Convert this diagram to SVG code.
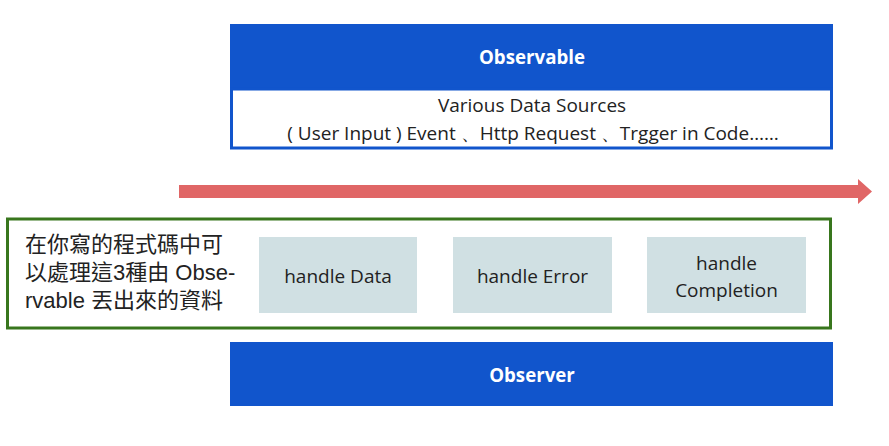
<svg xmlns="http://www.w3.org/2000/svg" width="889" height="446" viewBox="0 0 889 446">
  <style>
    .blue { fill: #1155cc; }
    .title { font-family: "Open Sans", "Noto Sans", sans-serif; font-weight: bold; font-size: 18.7px; fill: #ffffff; text-anchor: middle; }
    .desc { font-family: "Open Sans", "Noto Sans", sans-serif; font-size: 19px; fill: #222222; text-anchor: middle; }
    .handler { fill: #d0e0e3; }
    .hlabel { font-family: "Open Sans", "Noto Sans", sans-serif; font-size: 19px; fill: #222222; text-anchor: middle; }
    .note { font-family: "Liberation Sans", "Noto Sans CJK TC", sans-serif; font-size: 22px; fill: #222222; }
  </style>
  <rect width="889" height="446" fill="#ffffff"/>

  <g id="observable">
    <rect class="blue" x="230" y="24" width="603" height="66"/>
    <rect x="231.5" y="89" width="600" height="59" fill="#ffffff" stroke="#1155cc" stroke-width="3"/>
    <text class="title" x="532" y="64">Observable</text>
    <text class="desc" x="532" y="112">Various Data Sources</text>
    <text class="desc" x="533" y="140">( User Input ) Event 、Http Request 、Trgger in Code……</text>
  </g>

  <g id="connectors">
    <polygon points="179,185 858,185 858,179 872,191.5 858,204 858,198 179,198" fill="#e06666"/>
  </g>

  <g id="observer-code">
    <rect x="7.5" y="219" width="823" height="109" fill="#ffffff" stroke="#38761d" stroke-width="3"/>
    <text class="note" x="25" y="252">在你寫的程式碼中可</text>
    <text class="note" x="25" y="280">以處理這3種由 Obse-</text>
    <text class="note" x="25" y="308">rvable 丟出來的資料</text>
  </g>

  <g id="handle-data">
    <rect class="handler" x="259" y="237" width="158" height="76"/>
    <text class="hlabel" x="338" y="283">handle Data</text>
  </g>

  <g id="handle-error">
    <rect class="handler" x="453" y="237" width="159" height="76"/>
    <text class="hlabel" x="532.5" y="283">handle Error</text>
  </g>

  <g id="handle-completion">
    <rect class="handler" x="647" y="237" width="159" height="76"/>
    <text class="hlabel" x="726.5" y="270">handle</text>
    <text class="hlabel" x="726.5" y="297">Completion</text>
  </g>

  <g id="observer">
    <rect class="blue" x="230" y="342" width="603" height="64"/>
    <text class="title" x="532" y="382">Observer</text>
  </g>
</svg>
